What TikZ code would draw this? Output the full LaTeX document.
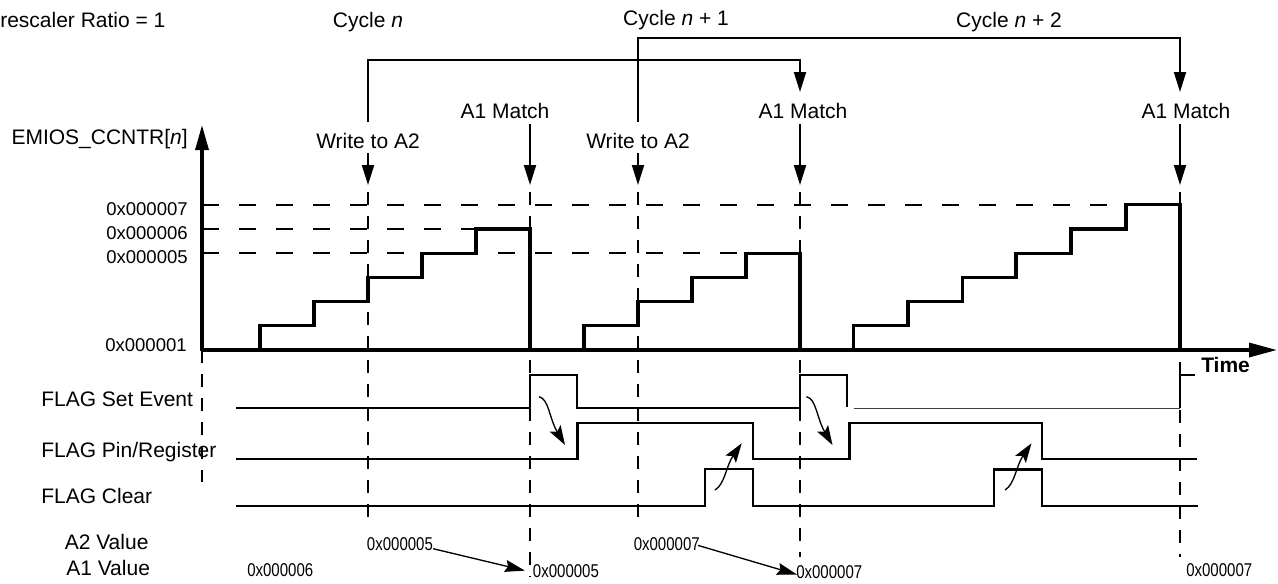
\documentclass[tikz,border=0pt]{standalone}
\usepackage{fontspec}
\setmainfont{Liberation Sans}
\newfontfamily\condfont[FakeStretch=0.81]{Liberation Sans}
\usetikzlibrary{arrows.meta}
\begin{document}
\begin{tikzpicture}[x=0.75pt,y=-0.75pt,
  lbl/.style={font=\fontsize{15.75}{18}\selectfont, inner sep=0pt},
  axl/.style={font=\fontsize{13.9}{16}\selectfont, inner sep=0pt, anchor=base east},
  val/.style={font=\condfont\fontsize{13.9}{16}\selectfont, inner sep=0pt, anchor=base west},
  stair/.style={line width=2.5pt, line join=miter},
  axis/.style={line width=2.5pt},
  sig/.style={line width=1.7pt, line join=miter},
  hdash/.style={line width=1.5pt, dash pattern=on 12.75pt off 15pt},
  vdash/.style={line width=1.5pt, dash pattern=on 10pt off 8pt},
  brk/.style={line width=1.5pt, line join=miter},
  evarr/.style={line width=1.5pt, -{Triangle[length=15pt,width=9pt]}},
  curv/.style={line width=1pt, -{Stealth[length=14.5pt,width=9.5pt,inset=3pt]}},
  varr/.style={line width=1pt, -{Stealth[length=15pt,width=9pt,inset=2pt]}}
]
\useasboundingbox (0,0) rectangle (1278,583);

% ---- top labels
\node[lbl, anchor=base west] (pre) at (0,27) {rescaler Ratio = 1};
\node[lbl, anchor=base] (cyc0) at (368,27) {Cycle \textit{n}};
\node[lbl, anchor=base] (cyc1) at (676,25) {Cycle \textit{n} + 1};
\node[lbl, anchor=base] (cyc2) at (1009,27) {Cycle \textit{n} + 2};

\node[lbl, anchor=base] (wa) at (368,148) {Write to A2};
\node[lbl, anchor=base] (wb) at (638,148) {Write to A2};
\node[lbl, anchor=base] (ma) at (505,118) {A1 Match};
\node[lbl, anchor=base] (mb) at (803,118) {A1 Match};
\node[lbl, anchor=base] (mc) at (1186,118) {A1 Match};

% event coordinates
\coordinate (wat) at (368,122);  \coordinate (wab) at (368,153); \coordinate (wae) at (368,185);
\coordinate (wbt) at (638,122);  \coordinate (wbb) at (638,153); \coordinate (wbe) at (638,185);
\coordinate (mab) at (530,124);  \coordinate (mae) at (530,185);
\coordinate (mbt) at (800,92);   \coordinate (mbb) at (800,124); \coordinate (mbe) at (800,185);
\coordinate (mct) at (1180,92);  \coordinate (mcb) at (1180,124); \coordinate (mce) at (1180,185);

% brackets
\draw[brk] (wat) -- (368,60) -- (800,60) -- (800,80);
\draw[evarr] (800,70) -- (mbt);
\draw[brk] (wbt) -- (638,37.7) -- (1180,37.7) -- (1180,80);
\draw[evarr] (1180,70) -- (mct);

% event arrows
\draw[evarr] (wab) -- (wae);
\draw[evarr] (wbb) -- (wbe);
\draw[evarr] (mab) -- (mae);
\draw[evarr] (mbb) -- (mbe);
\draw[evarr] (mcb) -- (mce);

% ---- vertical dashed lines
\draw[vdash] (202,350) -- (202,482);
\draw[vdash] (368,192) -- (368,527);
\draw[vdash] (530,192) -- (530,577);
\draw[vdash] (638,192) -- (638,527);
\draw[vdash] (800,192) -- (800,557);
\draw[vdash] (1180,192) -- (1180,205);
\draw[vdash] (1180,362) -- (1180,557);

% ---- horizontal dashed lines
\draw[hdash] (202,204.8) -- (1126,204.8);
\draw[hdash] (202,229) -- (476,229);
\draw[hdash] (202,253.2) -- (746,253.2);

% ---- axis labels
\node[lbl, anchor=base east] (ylab) at (188,144) {EMIOS\_CCNTR[\textit{n}]};
\node[axl] (v7) at (188,215) {0x000007};
\node[axl] (v6) at (188,239) {0x000006};
\node[axl] (v5) at (188,263) {0x000005};
\node[axl] (v1) at (187,351.7) {0x000001};

% ---- staircases
\draw[stair] (260,350) -- (260,325.8) -- (314,325.8) -- (314,301.6) -- (368,301.6) -- (368,277.4)
  -- (422,277.4) -- (422,253.2) -- (476,253.2) -- (476,229) -- (530,229) -- (530,350);
\draw[stair] (584,350) -- (584,325.8) -- (638,325.8) -- (638,301.6) -- (692,301.6) -- (692,277.4)
  -- (746,277.4) -- (746,253.2) -- (800,253.2) -- (800,350);
\draw[stair] (853.5,350) -- (853.5,325.8) -- (908,325.8) -- (908,301.6) -- (962.5,301.6) -- (962.5,277.4)
  -- (1016,277.4) -- (1016,253.2) -- (1071,253.2) -- (1071,229) -- (1126,229) -- (1126,204.8)
  -- (1180,204.8) -- (1180,350);

% ---- axes
\draw[axis, -{Triangle[length=18.75pt,width=9.75pt]}] (202,351.2) -- (202,125);
\draw[axis, -{Triangle[length=21pt,width=10.5pt]}] (200.8,350) -- (1277,350);
\node[lbl, font=\fontsize{15.75}{18}\selectfont\bfseries, anchor=base west] (time) at (1201,372) {Time};

% ---- signal labels
\node[lbl, anchor=base west] (fse) at (41,406.7) {FLAG Set Event};
\node[lbl, anchor=base west] (fpr) at (41,457) {FLAG Pin/Register};
\node[lbl, anchor=base west] (fcl) at (41,503.3) {FLAG Clear};
\node[lbl, anchor=base west] (a2l) at (64.5,549.3) {A2 Value};
\node[lbl, anchor=base west] (a1l) at (66,575) {A1 Value};

% ---- signals
\draw[sig] (236,408.3) -- (530,408.3) -- (530,375) -- (577,375) -- (577,408.3) -- (800,408.3)
  -- (800,375) -- (847,375) -- (847,407);
\draw[line width=1.1pt, black!75] (853.5,408.3) -- (1180,408.3);
\draw[sig] (1180,408.3) -- (1180,375) -- (1195,375);

\draw[sig] (236,459) -- (577.5,459) -- (577.5,422.7) -- (753,422.7) -- (753,459) -- (849.4,459)
  -- (849.4,422.7) -- (1042,422.7) -- (1042,459) -- (1197,459);

\draw[sig] (236,505.7) -- (705,505.7) -- (705,469) -- (753,469) -- (753,505.7) -- (994,505.7)
  -- (994,469.5) -- (1042,469.5) -- (1042,505.7) -- (1198,505.7);

% ---- causal arrows
\draw[curv] (539,396.7) .. controls (549,399) and (549,418) .. (565,445);
\draw[curv] (806.5,396.7) .. controls (816.5,399) and (816.5,418) .. (832.5,445);
\draw[curv] (715,490) .. controls (725,484) and (726,466) .. (741.7,443.3);
\draw[curv] (1005,490) .. controls (1015,484) and (1016,466) .. (1031.5,443.3);

% ---- values
\node[val] (a1v0) at (247,576.7) {0x000006};
\node[val] (a2v1) at (366.7,550) {0x000005};
\node[val] (a1v1) at (532.7,577) {0x000005};
\node[val] (a2v2) at (633.5,550) {0x000007};
\node[val] (a1v2) at (796,578.3) {0x000007};
\node[val] (a1v3) at (1186,576.7) {0x000007};

\draw[varr] ([yshift=1.3pt]a2v1.south east) -- ([xshift=-5.8pt]a1v1.west);
\draw[varr] ([xshift=-1.5pt,yshift=3.8pt]a2v2.south east) -- ([xshift=0.8pt,yshift=-2pt]a1v2.west);
\end{tikzpicture}
\end{document}
